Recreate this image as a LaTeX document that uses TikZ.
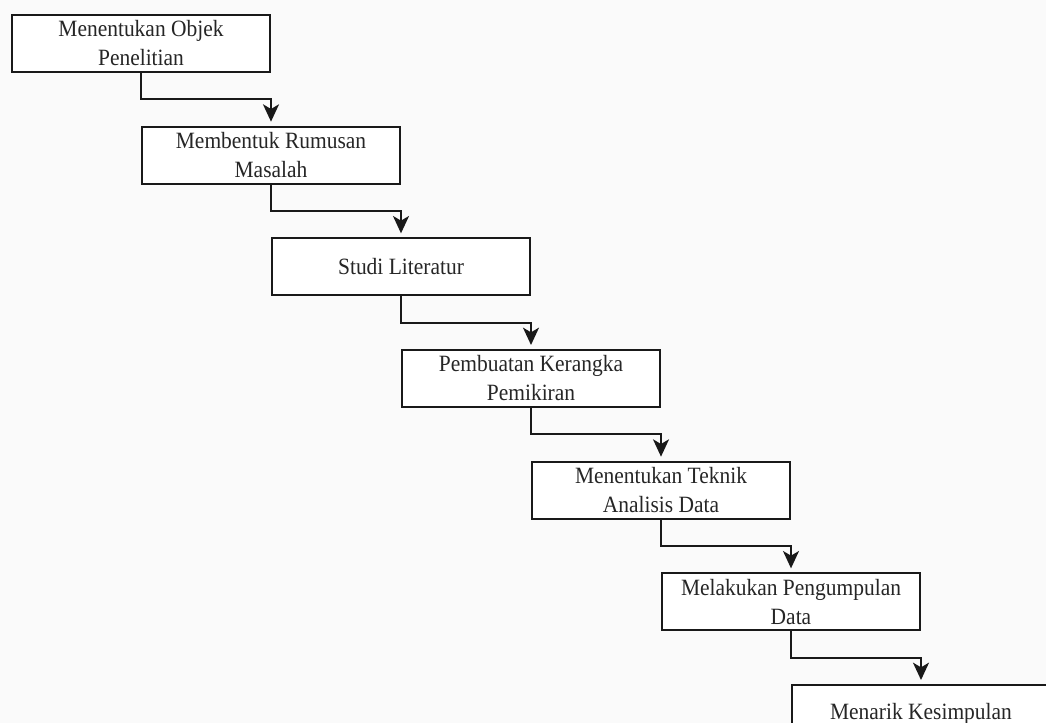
\documentclass[tikz,border=0pt]{standalone}
\usepackage{fontspec}
\setmainfont{Liberation Serif}[FakeStretch=0.92]
\usetikzlibrary{positioning,arrows.meta}

\definecolor{paper}{RGB}{250,250,250}

\tikzset{
  stage/.style={draw=black!90, line width=1.5pt, fill=white,
    minimum width=193.5pt, minimum height=42.75pt, inner sep=0pt,
    align=center, text=black!85,
    font=\fontsize{17.5}{21.75}\selectfont},
  flow/.style={draw=black!90, line width=1.5pt,
    -{Stealth[length=13pt,width=12pt,inset=3.5pt]}, shorten >=3pt}
}

\begin{document}
\begin{tikzpicture}
  \fill[paper] (0,0) rectangle (784.5pt,-542.25pt);
  \useasboundingbox (0,0) rectangle (784.5pt,-542.25pt);

  \node[stage, anchor=north west] (objek) at (8.25pt,-10.5pt) {Menentukan Objek\\Penelitian};
  \node[stage, below=39.5pt of objek, xshift=97.5pt] (rumusan) {Membentuk Rumusan\\Masalah};
  \node[stage, below=39.5pt of rumusan, xshift=97.5pt] (studi) {Studi Literatur};
  \node[stage, below=39.5pt of studi, xshift=97.5pt] (kerangka) {Pembuatan Kerangka\\Pemikiran};
  \node[stage, below=39.5pt of kerangka, xshift=97.5pt] (teknik) {Menentukan Teknik\\Analisis Data};
  \node[stage, below=39.5pt of teknik, xshift=97.5pt] (kumpul) {Melakukan Pengumpulan\\Data};
  \node[stage, below=39.5pt of kumpul, xshift=97.5pt] (simpul) {Menarik Kesimpulan};

  \foreach \a/\b in {objek/rumusan, rumusan/studi, studi/kerangka,
                     kerangka/teknik, teknik/kumpul, kumpul/simpul}
    \draw[flow] (\a.south) -- ++(0,-19.75pt) -| (\b.north);
\end{tikzpicture}
\end{document}
